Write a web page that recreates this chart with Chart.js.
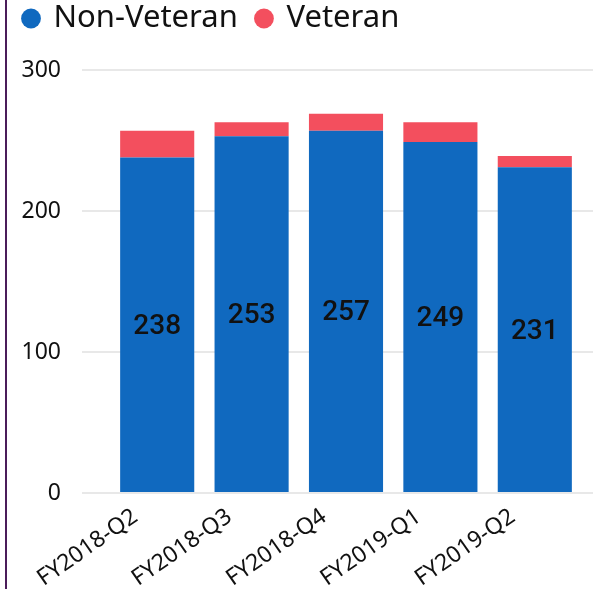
<!DOCTYPE html>
<html>
<head>
<meta charset="utf-8">
<script src="https://cdn.jsdelivr.net/npm/chart.js@4"></script>
<style>
  html, body { margin: 0; padding: 0; background: #fff; }
  #wrap { position: relative; width: 593px; height: 589px; }
  #edge { position: absolute; left: 5px; top: 0; width: 2px; height: 589px; background: #4b1d5a; }
  canvas { position: absolute; left: 0; top: 0; }
</style>
</head>
<body>
<div id="wrap">
  <canvas id="chart" width="593" height="589"></canvas>
  <div id="edge"></div>
</div>
<script>
/** Data */
const quarters = ['FY2018-Q2', 'FY2018-Q3', 'FY2018-Q4', 'FY2019-Q1', 'FY2019-Q2'];
const nonVeteran = [238, 253, 257, 249, 231];
const veteran = [19, 10, 12, 14, 8];
const yTicks = [0, 100, 200, 300];

Chart.defaults.font.family = '"Noto Sans", "Open Sans", sans-serif';
Chart.defaults.color = '#222';

// numbers in the middle of the blue bars
const barLabels = {
    id: 'barLabels',
    afterDatasetsDraw(chart) {
        const ctx = chart.ctx;
        const meta = chart.getDatasetMeta(0);
        ctx.save();
        ctx.font = '500 28px Roboto, sans-serif';
        ctx.fillStyle = '#111';
        ctx.textAlign = 'center';
        ctx.textBaseline = 'middle';
        meta.data.forEach((bar, i) => {
            const p = bar.getCenterPoint();
            ctx.fillText(nonVeteran[i], p.x, p.y + 2);
        });
        ctx.restore();
    }
};

// a bit of room between the legend and the plot
const legendGap = {
    id: 'legendGap',
    beforeInit(chart) {
        const fit = chart.legend.fit;
        chart.legend.fit = function () {
            fit.call(this);
            this.height += 26;
        };
    }
};

new Chart(document.getElementById('chart'), {
    type: 'bar',
    data: {
        labels: quarters,
        datasets: [{
            label: 'Non-Veteran',
            data: nonVeteran,
            backgroundColor: '#1069bf',
            barPercentage: 0.785,
            categoryPercentage: 1
        }, {
            label: 'Veteran',
            data: veteran,
            backgroundColor: '#f34f5e',
            barPercentage: 0.785,
            categoryPercentage: 1
        }]
    },
    options: {
        responsive: false,
        animation: false,
        layout: {
            padding: { left: 21, right: 0, top: 0, bottom: 0 }
        },
        plugins: {
            legend: {
                display: true,
                position: 'top',
                align: 'start',
                labels: {
                    usePointStyle: true,
                    pointStyle: 'circle',
                    boxWidth: 14,
                    boxHeight: 14,
                    padding: 3,
                    color: '#111',
                    font: { size: 31 },
                    generateLabels: chart => Chart.defaults.plugins.legend.labels.generateLabels(chart)
                        .map((l, i) => Object.assign(l, { text: i === 0 ? l.text + '  ' : l.text }))
                }
            },
            tooltip: { enabled: false }
        },
        scales: {
            x: {
                stacked: true,
                grid: { display: false },
                border: { display: false },
                ticks: {
                    minRotation: 35,
                    maxRotation: 35,
                    padding: 2,
                    labelOffset: -22,
                    color: '#111',
                    font: { size: 23 }
                },
                afterFit: s => { s.height = 96; }
            },
            y: {
                stacked: true,
                min: 0,
                max: 300,
                border: { display: false },
                grid: { color: '#e8e8e8', lineWidth: 2, tickLength: 28 },
                ticks: {
                    stepSize: 100,
                    padding: 21,
                    color: '#111',
                    font: { size: 23 },
                    callback: v => yTicks.includes(v) ? v : ''
                },
                afterFit: s => { s.width = 89; }
            },
            y2: {
                position: 'right',
                min: 0,
                max: 300,
                border: { display: false },
                grid: { color: '#e8e8e8', lineWidth: 2, tickLength: 11, drawOnChartArea: false },
                ticks: { stepSize: 100, display: false },
                afterFit: s => { s.width = 11; }
            }
        }
    },
    plugins: [barLabels, legendGap]
});
</script>
</body>
</html>
